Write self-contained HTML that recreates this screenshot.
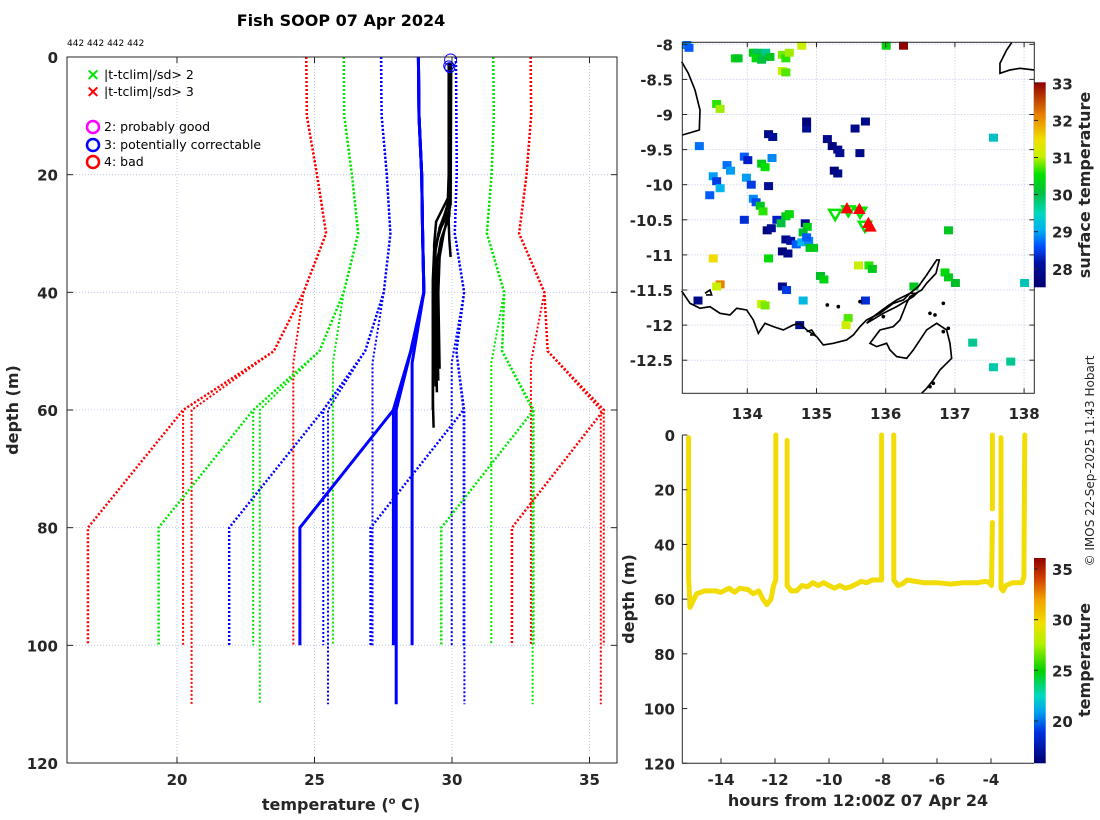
<!DOCTYPE html>
<html><head><meta charset="utf-8">
<style>
body{margin:0;background:#fff;}
svg{display:block;font-family:"DejaVu Sans","Liberation Sans",sans-serif;}
.tk{font-size:15px;font-weight:bold;fill:#262626;}
.lb{font-size:16px;font-weight:bold;fill:#262626;}
.lg{font-size:12.5px;fill:#000;}
</style></head>
<body>
<svg id="fig" width="1100" height="820" viewBox="0 0 1100 820">
<defs>
<linearGradient id="sstcb" x1="0" y1="1" x2="0" y2="0">
<stop offset="0" stop-color="#00006f"/><stop offset="0.12" stop-color="#0010a0"/>
<stop offset="0.2" stop-color="#0050ff"/><stop offset="0.28" stop-color="#00b0f0"/>
<stop offset="0.36" stop-color="#00d8c0"/><stop offset="0.46" stop-color="#00c040"/>
<stop offset="0.55" stop-color="#00e000"/><stop offset="0.64" stop-color="#c8f000"/>
<stop offset="0.72" stop-color="#f0e000"/><stop offset="0.84" stop-color="#e88000"/>
<stop offset="1" stop-color="#900000"/>
</linearGradient>
<linearGradient id="tcb" x1="0" y1="1" x2="0" y2="0">
<stop offset="0" stop-color="#00006f"/><stop offset="0.15" stop-color="#0030e0"/>
<stop offset="0.25" stop-color="#00a0f0"/><stop offset="0.33" stop-color="#00d8c0"/>
<stop offset="0.45" stop-color="#00d000"/><stop offset="0.58" stop-color="#b0f000"/>
<stop offset="0.68" stop-color="#f0e000"/><stop offset="0.8" stop-color="#f0a000"/>
<stop offset="0.9" stop-color="#d04000"/><stop offset="1" stop-color="#900000"/>
</linearGradient>
</defs>

<text x="341" y="26" text-anchor="middle" style="font-size:16px;font-weight:bold">Fish SOOP 07 Apr 2024</text>
<text x="67" y="46" style="font-size:9px">442 442 442 442</text>

<g id="left"></g>
<g id="map"></g>
<g id="ts"></g>

<text transform="translate(1094,461) rotate(-90)" text-anchor="middle" style="font-size:12px;fill:#262626">© IMOS 22-Sep-2025 11:43 Hobart</text>
</svg>
<script>
// ---------- LEFT PLOT DATA ----------
const climA_depth=[0,10,20,30,40,50,60,80,100];
const climA_mean=[28.78,28.8,28.9,28.93,28.98,28.5,27.87,24.47,24.47];
const climA_sd=[1.36,1.36,1.27,1.17,1.46,1.66,2.55,2.57,2.57];
const climB_depth=[0,10,20,30,40,50,60,100];
const climB_mean=[28.78,28.8,28.9,28.93,28.98,28.5,27.87,27.87];
const climB_sd=[1.36,1.36,1.27,1.17,1.46,1.66,2.55,2.55];
const climC_depth=[0,10,20,30,40,50,60,110];
const climC_mean=[28.78,28.8,28.9,28.93,28.98,28.5,27.97,27.97];
const climC_sd=[1.36,1.36,1.27,1.17,1.46,1.66,2.48,2.48];
const climD_depth=[0,10,20,30,40,52,100];
const climD_mean=[28.78,28.8,28.9,28.93,28.98,28.55,28.55];
const climD_sd=[1.36,1.36,1.27,1.17,1.46,1.44,1.44];
const sdMultipliers=[-3,-2,-1,0,1,2,3];
const profDepths=[
 [1,20,26,30,34,40,50,58,63],
 [1,20,25,29,33,40,50,56],
 [1,22,27,31,35,45,55],
 [1,20,24,28,32,45,57],
 [1,22,28,31,34],
 [1,25,30,34,40,53],
 [1,24,29,33,38,50,60]];
const profTemps=[
 [29.93,29.92,29.9,29.5,29.35,29.3,29.3,29.3,29.33],
 [29.9,29.9,29.88,29.55,29.4,29.38,29.38,29.4],
 [29.95,29.93,29.9,29.6,29.45,29.45,29.5],
 [29.88,29.88,29.85,29.42,29.35,29.4,29.45],
 [29.93,29.92,29.88,29.9,29.95],
 [29.97,29.95,29.7,29.55,29.5,29.55],
 [29.9,29.9,29.6,29.35,29.3,29.32,29.3]];
const flagTemps=[29.95,29.88,29.92];
const flagDepths=[0.5,1.5,1.8];
const tTicks=[20,25,30,35];
const dTicks=[0,20,40,60,80,100,120];

// ---------- MAP DATA ----------
const cellLon=[133.12,133.15,134.08,134.14,134.2,134.26,134.32,134.12,134.2,134.5,134.55,134.6,134.78,134.5,134.55,133.82,133.86,136.25,136.0,133.55,133.6,
 134.3,134.36,135.15,135.22,135.3,135.33,135.25,135.3,135.55,134.85,133.95,134.0,133.98,134.05,133.5,133.55,133.6,133.45,133.7,133.75,134.2,134.25,134.08,134.12,134.18,134.22,
 134.55,134.6,134.42,134.48,134.28,134.34,134.83,134.86,134.8,134.55,134.62,134.7,134.78,134.88,134.9,134.5,134.58,134.95,133.5,133.6,133.55,134.3,135.05,135.1,135.75,135.8,135.6,
 134.5,134.56,134.8,134.2,134.25,135.45,135.42,136.85,136.9,137.0,137.25,137.55,137.8,138.0,137.55,136.9,136.4,133.3,133.28,135.7,134.75,134.35,134.3,133.95,134.85,134.85,135.62,135.7];
const cellLat=[-8.01,-8.05,-8.12,-8.12,-8.18,-8.12,-8.18,-8.2,-8.22,-8.15,-8.2,-8.12,-8.02,-8.38,-8.4,-8.2,-8.2,-8.02,-8.02,-8.85,-8.92,
 -9.28,-9.32,-9.35,-9.45,-9.5,-9.55,-9.8,-9.84,-9.2,-9.2,-9.6,-9.65,-9.9,-10.0,-9.88,-9.95,-10.05,-10.15,-9.72,-9.8,-9.7,-9.75,-10.2,-10.25,-10.3,-10.38,
 -10.45,-10.42,-10.5,-10.55,-10.65,-10.62,-10.55,-10.6,-10.68,-10.78,-10.8,-10.85,-10.82,-10.8,-10.9,-10.95,-10.98,-10.9,-11.05,-11.42,-11.45,-11.05,-11.3,-11.35,-11.15,-11.2,-11.15,
 -11.45,-11.5,-11.65,-11.7,-11.72,-11.9,-12.0,-11.25,-11.32,-11.4,-12.25,-12.6,-12.52,-11.4,-9.33,-10.65,-11.45,-9.45,-11.65,-11.65,-12.0,-9.62,-10.02,-10.5,-10.75,-9.1,-9.55,-9.1];
const cellSst=[28.8,28.6,30.2,29.8,30.0,29.6,30.1,30.4,29.9,30.8,30.6,30.9,31.0,31.0,30.7,30.3,30.1,33.0,30.3,30.6,30.9,
 27.7,27.8,27.7,27.6,27.7,27.8,27.6,27.7,27.7,27.8,28.6,28.2,28.9,28.4,28.9,28.4,29.0,28.6,28.7,28.9,30.2,30.5,28.8,28.5,30.1,30.6,
 30.2,30.4,28.2,29.9,27.6,27.8,27.7,30.3,30.0,27.7,27.9,28.6,29.0,28.8,30.1,27.6,27.7,30.2,31.5,32.0,31.0,30.4,30.0,30.3,30.6,30.2,31.0,
 27.7,28.4,29.1,31.0,30.8,30.7,31.1,30.4,30.2,30.0,29.6,29.5,29.6,29.4,29.3,30.1,30.1,28.7,27.7,28.3,27.8,28.8,27.8,28.3,28.6,27.6,27.7,27.7];
const triDownLon=[135.27,135.46,135.63,135.7];
const triDownLat=[-10.43,-10.38,-10.4,-10.6];
const triUpLon=[135.44,135.62,135.75,135.78];
const triUpLat=[-10.34,-10.35,-10.55,-10.6];
const lonTicks=[134,135,136,137,138];
const latTicks=[-8,-8.5,-9,-9.5,-10,-10.5,-11,-11.5,-12,-12.5];
const sstTicks=[28,29,30,31,32,33];

// ---------- DEPTH-TIME DATA ----------
const trackHours=[-15.2,-15.2,-15.15,-15.05,-14.9,-14.6,-14.2,-14.0,-13.7,-13.5,-13.3,-13.0,-12.8,-12.6,-12.45,-12.3,-12.15,-12.05,-11.97,-11.97,null,
 -11.55,-11.55,-11.4,-11.2,-11.0,-10.8,-10.6,-10.4,-10.2,-10.0,-9.8,-9.6,-9.4,-9.2,-9.0,-8.8,-8.6,-8.4,-8.2,-8.05,-8.05,null,
 -7.6,-7.6,-7.45,-7.3,-7.1,-6.8,-6.5,-6.0,-5.5,-5.0,-4.5,-4.2,-4.05,-3.98,-3.95,null,-3.95,-3.95,null,
 -3.63,-3.63,-3.55,-3.45,-3.2,-3.0,-2.85,-2.78,-2.75];
const trackDepths=[1,52,63,61,58,57,57,57.5,56,57.5,56,56.5,58,57,60,62,60,55,53,0,null,
 2,55,57,57,55,55.5,54,55,54,55,56,55,56,55.5,54.5,53.5,54,53,53,53,0,null,
 0,53,55,54.5,53,53.5,54,54,54.5,54,54,53.5,54,55,32,null,27,0,null,
 1,56,57,55,54,54,54,52,0];
const hourTicks=[-14,-12,-10,-8,-6,-4];
const tsDepthTicks=[0,20,40,60,80,100,120];
const tempCbTicks=[20,25,30,35];

const NS='http://www.w3.org/2000/svg';
function mk(parent,tag,attrs){const e=document.createElementNS(NS,tag);for(const k in attrs)e.setAttribute(k,attrs[k]);parent.appendChild(e);return e;}

// ===== LEFT =====
const L=document.getElementById('left');
const LX0=67,LX1=617,LY0=57,LY1=763;
const xT=t=>LX0+(t-16)/(36-16)*(LX1-LX0);
const yD=d=>LY0+d/120*(LY1-LY0);
for(const t of tTicks){const g=mk(L,'line',{x1:xT(t),x2:xT(t),y1:LY0,y2:LY1,stroke:'#c0c8e8','stroke-width':1,'stroke-dasharray':'1,2'});
 }
for(const d of dTicks){const g=mk(L,'line',{x1:LX0,x2:LX1,y1:yD(d),y2:yD(d),stroke:'#c0c8e8','stroke-width':1,'stroke-dasharray':'1,2'});
 }
const colorsK={'-3':'#ff0000','-2':'#00e600','-1':'#0000ff','0':'#0000ff','1':'#0000ff','2':'#00e600','3':'#ff0000'};
function drawClim(depths,means,sds,name,w){
 for(const k of sdMultipliers){
  const pts=depths.map((d,i)=>xT(means[i]+k*sds[i]).toFixed(1)+','+yD(d).toFixed(1)).join(' ');
  const p=mk(L,'polyline',{points:pts,fill:'none',stroke:colorsK[k],'stroke-width':k===0?3:w});
  if(k!==0)p.setAttribute('stroke-dasharray','2,2');
  
  
 }
}
drawClim(climB_depth,climB_mean,climB_sd,'clim-b',2);
drawClim(climC_depth,climC_mean,climC_sd,'clim-c',2);
drawClim(climD_depth,climD_mean,climD_sd,'clim-d',2);
drawClim(climA_depth,climA_mean,climA_sd,'clim-a',2.5);
profDepths.forEach((ds,j)=>{
 const pts=ds.map((d,i)=>xT(profTemps[j][i]).toFixed(1)+','+yD(d).toFixed(1)).join(' ');
 const p=mk(L,'polyline',{points:pts,fill:'none',stroke:'#000','stroke-width':2.5});
 
 
});
flagTemps.forEach((t,i)=>{const c=mk(L,'circle',{cx:xT(t),cy:yD(flagDepths[i]),r:i===0?6:5,fill:'none',stroke:'#0000ff','stroke-width':1});
 });
mk(L,'rect',{x:LX0,y:LY0,width:LX1-LX0,height:LY1-LY0,fill:'none',stroke:'#262626','stroke-width':1});
for(const t of tTicks){mk(L,'line',{x1:xT(t),x2:xT(t),y1:LY1,y2:LY1-6,stroke:'#262626'});mk(L,'line',{x1:xT(t),x2:xT(t),y1:LY0,y2:LY0+6,stroke:'#262626'});
 const tx=mk(L,'text',{x:xT(t),y:LY1+22,'text-anchor':'middle',class:'tk'});tx.textContent=t;
 }
for(const d of dTicks){mk(L,'line',{x1:LX0,x2:LX0+6,y1:yD(d),y2:yD(d),stroke:'#262626'});mk(L,'line',{x1:LX1,x2:LX1-6,y1:yD(d),y2:yD(d),stroke:'#262626'});
 const tx=mk(L,'text',{x:LX0-9,y:yD(d)+6,'text-anchor':'end',class:'tk'});tx.textContent=d;
 }
{const t=mk(L,'text',{x:341,y:810,'text-anchor':'middle',class:'lb'});t.innerHTML='temperature (<tspan dy="-6" style="font-size:10px">o</tspan><tspan dy="6"> C)</tspan>';
 
 const y=mk(L,'text',{transform:'translate(18,410) rotate(-90)','text-anchor':'middle',class:'lb'});y.textContent='depth (m)';
 }
// legend
const legItems=[['×','#00e600','|t-tclim|/sd> 2',75],['×','#ff0000','|t-tclim|/sd> 3',92]];
legItems.forEach(it=>{const m=mk(L,'text',{x:93,y:it[3]+5,'text-anchor':'middle',style:'font-size:17px;font-weight:bold',fill:it[1]});m.textContent=it[0];
 
 const t=mk(L,'text',{x:104,y:it[3]+4,class:'lg'});t.textContent=it[2];
 });
const legC=[['#ff00ff','2: probably good',127],['#0000ff','3: potentially correctable',145],['#ff0000','4: bad',162]];
legC.forEach(it=>{const c=mk(L,'circle',{cx:93,cy:it[2],r:6,fill:'none',stroke:it[0],'stroke-width':2.5});
 
 const t=mk(L,'text',{x:104,y:it[2]+4,class:'lg'});t.textContent=it[1];
 });

// ===== MAP =====
const M=document.getElementById('map');
const MX0=682.3,MX1=1034.3,MY0=42.3,MY1=393.3;
const xL=lon=>747.3+(lon-134)*69.2;
const yL=lat=>44.3+(-8-lat)*70.2;
for(const t of lonTicks){const g=mk(M,'line',{x1:xL(t),x2:xL(t),y1:MY0,y2:MY1,stroke:'#c0c8e8','stroke-dasharray':'1,2'});}
for(const t of latTicks){const g=mk(M,'line',{x1:MX0,x2:MX1,y1:yL(t),y2:yL(t),stroke:'#c0c8e8','stroke-dasharray':'1,2'});}
const sstStops=[[27.5,[0,0,111]],[28.2,[0,30,200]],[28.6,[0,90,255]],[29,[0,180,240]],[29.5,[0,200,170]],[30,[0,190,40]],[30.5,[0,225,0]],[31,[200,240,0]],[31.5,[240,220,0]],[32,[232,128,0]],[33,[144,0,0]]];
function sstColor(v){for(let i=0;i<sstStops.length-1;i++){const a=sstStops[i],b=sstStops[i+1];if(v<=b[0]){const f=Math.max(0,(v-a[0])/(b[0]-a[0]));return 'rgb('+a[1].map((c,k)=>Math.round(c+f*(b[1][k]-c))).join(',')+')';}}return 'rgb(144,0,0)';}
cellLon.forEach((lon,i)=>{const r=mk(M,'rect',{x:xL(lon)-4,y:yL(cellLat[i])-4,width:9,height:8,fill:sstColor(cellSst[i])});
 });
// coastline (zoom-frame coordinates)
const coast=mk(M,'g',{transform:'translate(620,30) scale(0.3333)',fill:'none',stroke:'#000','stroke-width':5});

mk(coast,'polyline',{points:'185,95 205,130 225,180 240,240 238,300 187,315'});
mk(coast,'polyline',{points:'1175,38 1160,60 1140,100 1140,130 1170,120 1200,115 1243,120'});
mk(coast,'polyline',{points:'185,783 210,820 240,835 270,830 300,850 330,855 350,835 380,840 400,870 415,910 435,880 460,890 490,900 520,885 540,880 560,900 590,920 610,945 640,940 680,930 700,915 720,890 740,870 780,850 800,835 820,820 850,810 870,790 895,770 920,735 950,690 958,690 948,730 920,760 905,780 870,800 860,820 840,870 820,890 780,900 750,940 770,950 800,940 810,960 830,980 860,985 880,960 900,930 920,900 950,880 980,900 990,940 995,985 980,1000 960,1020 940,1050 920,1075 905,1090'});
mk(coast,'polyline',{points:'740,880 790,850 830,830 880,800 890,790 870,790 830,810 800,830 760,860 740,880'});
mk(coast,'polyline',{points:'255,790 270,780 275,795 258,795'});
mk(coast,'polyline',{points:'560,905 575,900 585,915 570,915'});
[[622,825],[655,830],[720,815],[790,860],[930,850],[945,855],[970,820],[985,895],[970,905],[940,1060],[930,1070]].forEach(p=>mk(coast,'circle',{cx:p[0],cy:p[1],r:3,fill:'#000'}));
triDownLon.forEach((lon,i)=>{const x=xL(lon),y=yL(triDownLat[i]);const p=mk(M,'polygon',{points:`${x-6},${y-5} ${x+6},${y-5} ${x},${y+5}`,fill:'none',stroke:'#00e600','stroke-width':2.5});
 });
triUpLon.forEach((lon,i)=>{const x=xL(lon),y=yL(triUpLat[i]);const p=mk(M,'polygon',{points:`${x-5},${y+4} ${x+5},${y+4} ${x},${y-5}`,fill:'#ff0000',stroke:'#ff0000','stroke-width':1.5});
 });
mk(M,'rect',{x:MX0,y:MY0,width:MX1-MX0,height:MY1-MY0,fill:'none',stroke:'#262626'});
for(const t of lonTicks){mk(M,'line',{x1:xL(t),x2:xL(t),y1:MY1,y2:MY1-5,stroke:'#262626'});mk(M,'line',{x1:xL(t),x2:xL(t),y1:MY0,y2:MY0+5,stroke:'#262626'});
 const tx=mk(M,'text',{x:xL(t),y:419,'text-anchor':'middle',class:'tk'});tx.textContent=t;
 }
for(const t of latTicks){mk(M,'line',{x1:MX0,x2:MX0+5,y1:yL(t),y2:yL(t),stroke:'#262626'});mk(M,'line',{x1:MX1,x2:MX1-5,y1:yL(t),y2:yL(t),stroke:'#262626'});
 const tx=mk(M,'text',{x:673,y:yL(t)+6,'text-anchor':'end',class:'tk'});tx.textContent=t;
 }
{const cb=mk(M,'rect',{x:1034,y:82.3,width:11.7,height:205,fill:'url(#sstcb)'});
 const yS=v=>83.3+(33-v)*37.1;
 for(const t of sstTicks){mk(M,'line',{x1:1034,x2:1038,y1:yS(t),y2:yS(t),stroke:'#262626'});
  const tx=mk(M,'text',{x:1052,y:yS(t)+6,class:'tk'});tx.textContent=t;}
 const lb=mk(M,'text',{transform:'translate(1090,185) rotate(-90)','text-anchor':'middle',class:'lb'});lb.textContent='surface temperature';
 }

// ===== DEPTH-TIME =====
const T=document.getElementById('ts');
const TX0=682.3,TX1=1034,TY0=435,TY1=763.3;
const xH=h=>721+(h+14)*27;
const yT=d=>TY0+d/120*(TY1-TY0);
let seg=[];const segs=[];
trackHours.forEach((h,i)=>{if(h===null){segs.push(seg);seg=[];}else seg.push(xH(h).toFixed(1)+','+yT(trackDepths[i]).toFixed(1));});
segs.push(seg);
segs.forEach(s=>{const p=mk(T,'polyline',{points:s.join(' '),fill:'none',stroke:'#f2dc06','stroke-width':5,'stroke-linecap':'round','stroke-linejoin':'round'});
 });
mk(T,'line',{x1:TX0,x2:TX0,y1:TY0,y2:TY1,stroke:'#262626'});
mk(T,'line',{x1:TX0,x2:TX1,y1:TY1,y2:TY1,stroke:'#262626'});
for(const h of hourTicks){mk(T,'line',{x1:xH(h),x2:xH(h),y1:TY1,y2:TY1-5,stroke:'#262626'});
 const tx=mk(T,'text',{x:xH(h),y:785,'text-anchor':'middle',class:'tk'});tx.textContent=h;
 }
for(const d of tsDepthTicks){mk(T,'line',{x1:TX0,x2:TX0+5,y1:yT(d),y2:yT(d),stroke:'#262626'});
 const tx=mk(T,'text',{x:675,y:yT(d)+6,'text-anchor':'end',class:'tk'});tx.textContent=d;
 }
{const t=mk(T,'text',{x:858,y:806,'text-anchor':'middle',class:'lb'});t.textContent='hours from 12:00Z 07 Apr 24';
 
 const y=mk(T,'text',{transform:'translate(634,599) rotate(-90)','text-anchor':'middle',class:'lb'});y.textContent='depth (m)';
 
 const cb=mk(T,'rect',{x:1034,y:558,width:11.7,height:205.3,fill:'url(#tcb)'});
 const yC=v=>569+(35-v)*10.13;
 for(const t2 of tempCbTicks){mk(T,'line',{x1:1034,x2:1038,y1:yC(t2),y2:yC(t2),stroke:'#262626'});
  const tx=mk(T,'text',{x:1052,y:yC(t2)+6,class:'tk'});tx.textContent=t2;}
 const lb=mk(T,'text',{transform:'translate(1090,660) rotate(-90)','text-anchor':'middle',class:'lb'});lb.textContent='temperature';
 }
</script>
</body></html>
